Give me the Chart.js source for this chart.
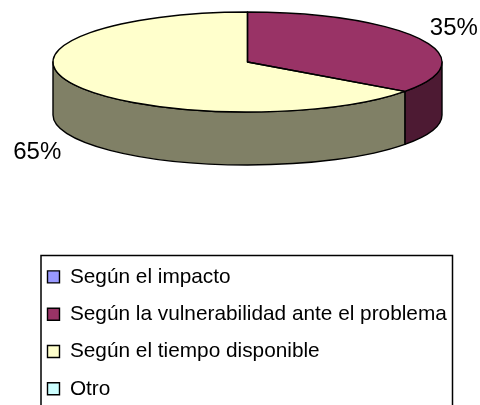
<!DOCTYPE html>
<html><head><meta charset="utf-8">
<style>html,body{margin:0;padding:0;background:#fff;overflow:hidden}#w{position:relative;width:480px;height:405px}</style>
<script src="https://cdn.jsdelivr.net/npm/chart.js@4/dist/chart.umd.min.js"></script>
</head><body><div id="w"><canvas id="c" width="480" height="405"></canvas></div>
<script>
const categories = ['Según el impacto','Según la vulnerabilidad ante el problema','Según el tiempo disponible','Otro'];
const shares = [0,35,65,0];
const topColors = ['#9999FF','#993366','#FFFFCC','#CCFFFF'];
const sideColors = ['#4D4D80','#4D1A33','#808066','#668080'];
const FONT = '"Liberation Sans", Arial, sans-serif';
// projection of the flat pie onto a tilted disc
const tilt = {cy:62, ry:50, depth:53};
const labelOffset = {1:[33,-11], 2:[-37,68]};

function geo(a){ return {cx:a.x, rx:a.outerRadius, cy:tilt.cy, ry:tilt.ry}; }

const pie3d = {
  id:'pie3d',
  beforeDatasetsDraw(chart){
    const ctx = chart.ctx, arcs = chart.getDatasetMeta(0).data;
    const first = arcs[0], g = geo(first);
    ctx.save();
    ctx.lineWidth = 1.4; ctx.strokeStyle = '#000'; ctx.lineJoin='round';
    arcs.forEach((a,i)=>{
      const s = Math.max(a.startAngle,0), e = Math.min(a.endAngle,Math.PI);
      if (e<=s) return;
      ctx.beginPath();
      ctx.ellipse(g.cx,g.cy,g.rx,g.ry,0,s,e);
      ctx.ellipse(g.cx,g.cy+tilt.depth,g.rx,g.ry,0,e,s,true);
      ctx.closePath();
      ctx.fillStyle = sideColors[i];
      ctx.fill(); ctx.stroke();
    });
    ctx.restore();
    ctx.save();
    ctx.translate(g.cx,g.cy);
    ctx.scale(1,g.ry/g.rx);
    ctx.translate(-first.x,-first.y);
  },
  afterDatasetsDraw(chart){
    const ctx = chart.ctx, arcs = chart.getDatasetMeta(0).data;
    ctx.restore();
    const g = geo(arcs[0]);
    ctx.save();
    ctx.lineWidth = 1.4; ctx.strokeStyle = '#000'; ctx.lineJoin='round';
    arcs.forEach((a,i)=>{
      if (a.endAngle-a.startAngle<=0) return;
      ctx.beginPath();
      ctx.moveTo(g.cx,g.cy);
      ctx.ellipse(g.cx,g.cy,g.rx,g.ry,0,a.startAngle,a.endAngle);
      ctx.closePath();
      ctx.stroke();
    });
    ctx.fillStyle='#000'; ctx.font='24px '+FONT; ctx.textAlign='center'; ctx.textBaseline='middle';
    arcs.forEach((a,i)=>{
      if (!shares[i]) return;
      const m=(a.startAngle+a.endAngle)/2, o=labelOffset[i];
      ctx.fillText(shares[i]+'%', g.cx+g.rx*Math.cos(m)+o[0], g.cy+g.ry*Math.sin(m)+o[1]);
    });
    ctx.restore();
  },
  beforeDraw(chart){
    const l = chart.legend;
    l.left=31; l.right=475; l.top=250; l.bottom=470;
    l.adjustHitBoxes();
  },
  afterDraw(chart){
    const ctx=chart.ctx;
    ctx.save();
    ctx.lineWidth=1.5; ctx.strokeStyle='#000';
    ctx.beginPath();
    ctx.moveTo(41,406); ctx.lineTo(41,255.5); ctx.lineTo(452.5,255.5); ctx.lineTo(452.5,406);
    ctx.stroke();
    ctx.restore();
  }
};

new Chart(document.getElementById('c'),{
  type:'pie',
  data:{labels:categories,datasets:[{data:shares,backgroundColor:topColors,borderWidth:0,clip:false}]},
  plugins:[pie3d],
  options:{
    responsive:false,animation:false,rotation:0,
    layout:{padding:{left:53,right:38,top:8,bottom:8}},
    plugins:{
      tooltip:{enabled:false},
      legend:{display:true,position:'chartArea',align:'start',
        labels:{boxWidth:12,boxHeight:12,padding:16.5,color:'#000',font:{family:FONT,size:20.8},
          generateLabels(chart){
            return categories.map((t,i)=>({text:t,fillStyle:topColors[i],strokeStyle:'#000',lineWidth:1.4,hidden:false,index:i}));
          }}}
    }
  }
});
</script></body></html>
